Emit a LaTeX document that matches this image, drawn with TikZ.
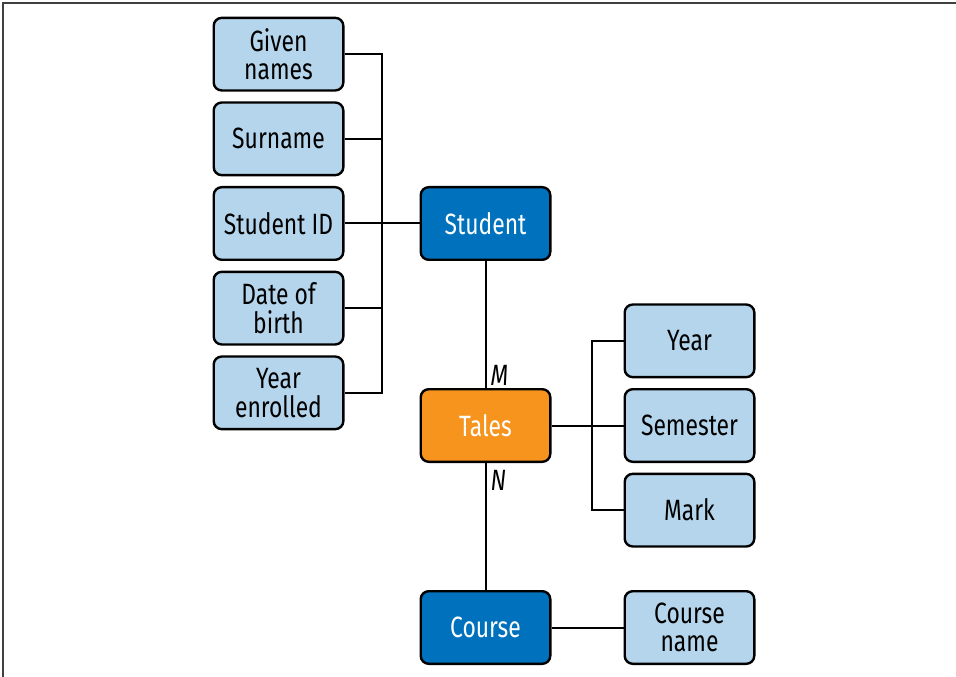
\documentclass[tikz,border=0pt]{standalone}
\usepackage{fontspec}
\usepackage{tikz}
\usetikzlibrary{positioning}
\newfontfamily\erfont{Fira Sans}[FakeStretch=0.78]
\definecolor{attrblue}{HTML}{B4D5EB}
\definecolor{entblue}{HTML}{0071BC}
\definecolor{relorange}{HTML}{F7941E}

\begin{document}
\begin{tikzpicture}[x=0.75pt,y=-0.75pt,node distance=7.25pt, every node/.style={font=\erfont\fontsize{22}{21.5}\selectfont}]
\tikzstyle{attr}=[draw, line width=1.8pt, rounded corners=6pt, minimum width=97.2pt, minimum height=54.45pt, align=center, fill=attrblue, inner sep=1pt]
\tikzstyle{ent}=[attr, fill=entblue, text=white]
\tikzstyle{rel}=[attr, fill=relorange, text=white]
\tikzstyle{link}=[line width=1.5pt]
\useasboundingbox (0,0) rectangle (956,677);
\draw[line width=1.5pt, black!75] (3,677) -- (3,3) -- (956,3);
\node[ent] (student) at (485.5,223.5) {Student};
\node[rel,below=95.25pt of student] (tales) {Tales};
\node[ent,below=95.25pt of tales] (course) {Course};
\node[attr,left=56.25pt of student] (sid) {Student ID};
\node[attr,above=of sid] (surn) {Surname};
\node[attr,above=of surn] (gname) {Given\\names};
\node[attr,below=of sid] (dob) {Date of\\birth};
\node[attr,below=of dob] (yenr) {Year\\enrolled};
\node[attr,right=54pt of tales] (sem) {Semester};
\node[attr,above=of sem] (year) {Year};
\node[attr,below=of sem] (mark) {Mark};
\node[attr,right=54pt of course] (cname) {Course\\name};
\coordinate (lbus) at ([xshift=27.75pt]sid.east);
\coordinate (rbus) at ([xshift=-24pt]sem.west);
\draw[link] (gname.east) -| (lbus |- yenr.east) -- (yenr.east);
\foreach \a in {surn,sid,dob} \draw[link] (\a.east) -- (lbus |- \a.east);
\draw[link] (lbus) -- (student);
\draw[link] (year.west) -| (rbus |- mark.west) -- (mark.west);
\draw[link] (tales) -- (sem);
\draw[link] (course) -- (cname);
\draw[link] (student) -- node[pos=0.9,right,inner sep=3pt] {\itshape M} (tales);
\draw[link] (tales) -- node[pos=0.14,right,inner sep=3pt] {\itshape N} (course);
\end{tikzpicture}
\end{document}
